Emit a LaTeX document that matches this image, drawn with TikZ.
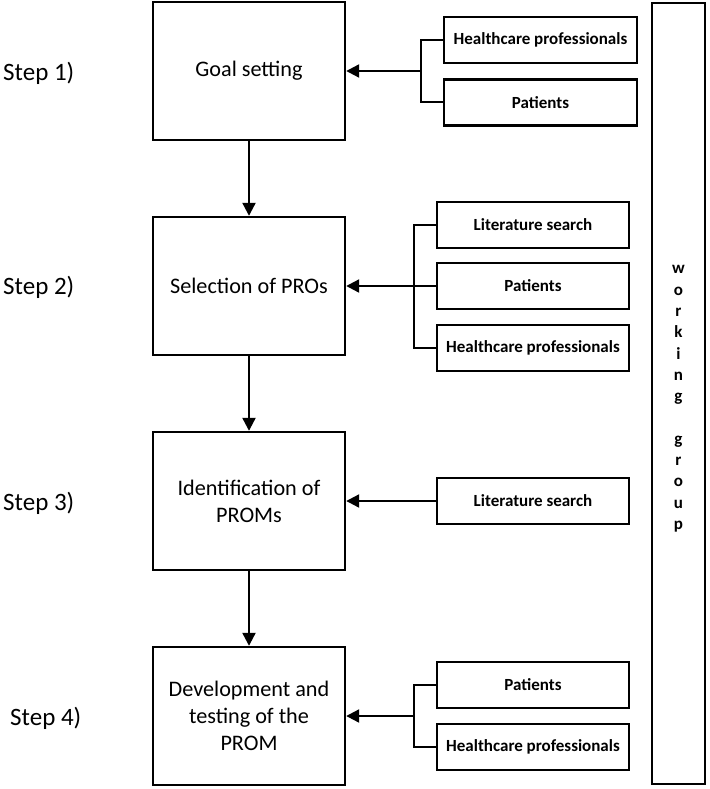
\documentclass[tikz,border=0pt]{standalone}
\usepackage{fontspec}
\setmainfont{Carlito}
\usetikzlibrary{arrows.meta}
\begin{document}
\begin{tikzpicture}[x=1pt,y=-1pt,
  mainbox/.style={draw, line width=2.4pt, minimum width=192pt, minimum height=138pt, align=center, font=\fontsize{22.2}{27}\selectfont, inner sep=0pt},
  srcbox/.style={draw, line width=2.4pt, minimum width=192pt, minimum height=46pt, font=\bfseries\fontsize{17}{20}\selectfont, inner sep=0pt},
  steplabel/.style={anchor=west, font=\fontsize{25}{28}\selectfont, inner sep=0pt},
  arr/.style={line width=2.2pt, -{Triangle[length=13pt,width=13pt]}},
  link/.style={line width=2pt},
]
\fill[white] (0,0) rectangle (709,789);
\useasboundingbox (0,0) rectangle (709,789);

% step labels
\node[steplabel] (s1) at (3,73) {Step 1)};
\node[steplabel] (s2) at (3,287) {Step 2)};
\node[steplabel] (s3) at (3,503) {Step 3)};
\node[steplabel] (s4) at (10,718) {Step 4)};

% main boxes
\node[mainbox] (g1) at (249,71) {Goal setting};
\node[mainbox] (g2) at (249,286) {Selection of PROs};
\node[mainbox] (g3) at (249,501) {Identification of\\PROMs};
\node[mainbox] (g4) at (249,716) {Development and\\testing of the\\PROM};

\draw[arr] (g1.south) -- (g2.north);
\draw[arr] (g2.south) -- (g3.north);
\draw[arr] (g3.south) -- (g4.north);

% group 1
\node[srcbox, minimum width=193pt] (hp1) at (540.5,40) {Healthcare professionals};
\node[srcbox, minimum width=193pt] (p1) at (540.5,102.5) {Patients};
\coordinate (j1) at (421,71);
\draw[link] (hp1.west) -| (j1) |- (p1.west);
\draw[arr] (j1) -- (g1.east);

% group 2
\node[srcbox] (ls2) at (533,225) {Literature search};
\node[srcbox] (p2) at (533,286) {Patients};
\node[srcbox] (hp2) at (533,348) {Healthcare professionals};
\coordinate (j2) at (414,286);
\draw[link] (ls2.west) -| (j2) |- (hp2.west);
\draw[link] (p2.west) -- (j2);
\draw[arr] (j2) -- (g2.east);

% group 3
\node[srcbox] (ls3) at (533,501) {Literature search};
\draw[arr] (ls3.west) -- (g3.east);

% group 4
\node[srcbox] (p4) at (533,685) {Patients};
\node[srcbox] (hp4) at (533,747) {Healthcare professionals};
\coordinate (j4) at (414,716);
\draw[link] (p4.west) -| (j4) |- (hp4.west);
\draw[arr] (j4) -- (g4.east);

% working group
\node[draw, line width=2.4pt, minimum width=53pt, minimum height=781pt, inner sep=0pt] (wg) at (678.5,393.5) {};
\node[align=center, inner sep=0pt, font=\bfseries\fontsize{17}{21.3}\selectfont] (wgt) at (678.5,399) {w\\o\\r\\k\\i\\n\\g\\\mbox{}\\g\\r\\o\\u\\p};
\end{tikzpicture}
\end{document}
